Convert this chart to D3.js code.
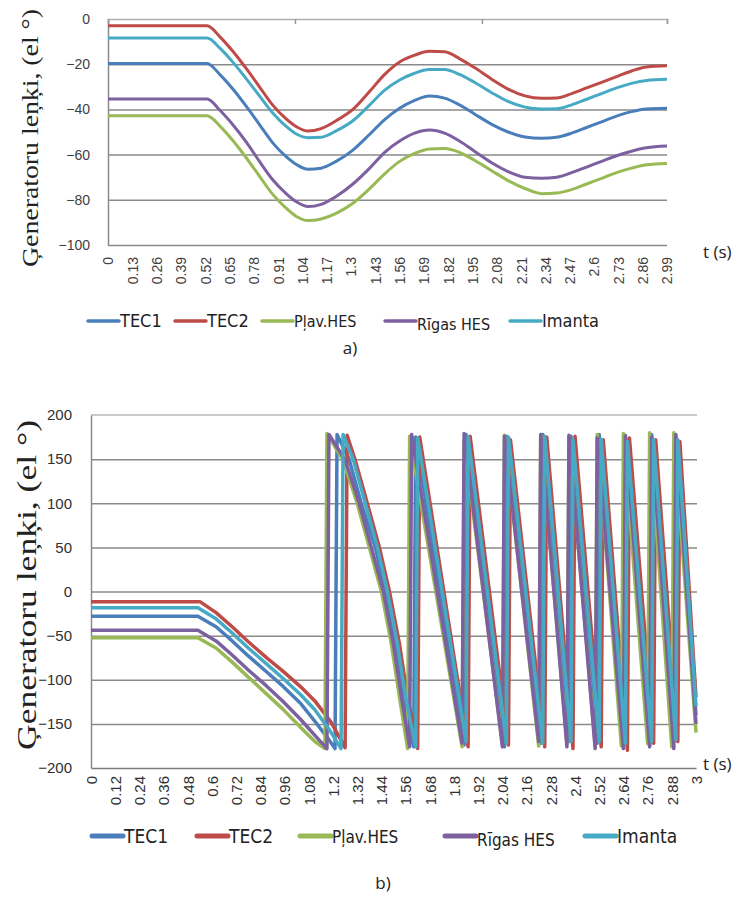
<!DOCTYPE html>
<html>
<head>
<meta charset="utf-8">
<script src="https://cdn.jsdelivr.net/npm/d3@7/dist/d3.min.js"></script>
<style>
  body { margin: 0; background: #fff; }
  svg { display: block; }
</style>
</head>
<body>
<svg id="chart" width="744" height="898"></svg>
<script>
var seriesNames = ["TEC1", "TEC2", "Pļav.HES", "Rīgas HES", "Imanta"];
var seriesColors = ["#4a7ebb", "#be4b48", "#98b954", "#7d60a0", "#46aac5"];
var yTitle = "Ģeneratoru leņķi, (el °)";

// ---- chart a) : time grid (s) and angles (el deg)
var timeA = [0, 0.53, 0.6, 0.67, 0.74, 0.81, 0.88, 0.95, 1.01, 1.07, 1.14, 1.22, 1.31, 1.40, 1.48, 1.56, 1.64,
             1.72, 1.80, 1.88, 1.96, 2.05, 2.14, 2.23, 2.32, 2.40, 2.48, 2.56, 2.64, 2.72, 2.80, 2.88, 2.99];
var tec1A = [-19.7, -19.7, -24.7, -31.2, -38.7, -46.7, -54.7, -60.7, -64.5, -66.5, -66, -63, -58, -51, -44.5, -39.5, -36,
             -34.1, -35, -38, -42, -46.5, -50, -52.2, -52.8, -52.3, -50.5, -48, -45.5, -43, -41, -39.8, -39.5];
var tec2A = [-3, -3, -8, -14.5, -22, -30, -38, -44, -47.8, -49.6, -48.5, -45, -40, -32, -24.5, -19, -16,
             -14.3, -14.5, -17.5, -21.5, -26.5, -31, -34, -35.1, -35, -33, -30.5, -28, -25.5, -23, -21.2, -20.7];
var plavA = [-42.8, -42.8, -47.5, -54, -61.5, -69.5, -77.5, -83.5, -87.5, -89.2, -88.5, -86, -81.5, -75, -68.5, -63, -59.5,
             -57.5, -57.3, -59, -62.5, -67, -71.5, -75, -77.3, -77, -75.5, -73, -70.5, -68, -66, -64.5, -63.9];
var rigasA = [-35.4, -35.4, -40.5, -47, -54.5, -63, -71, -77, -81, -83, -82, -78.5, -73, -66, -59, -54, -50.5,
              -49.1, -50.5, -54, -58.5, -63.5, -67.5, -70, -70.5, -70, -68, -65.5, -63, -60.5, -58.5, -57, -56.2];
var imantaA = [-8.4, -8.4, -13, -19.3, -26.5, -34, -41.5, -47.3, -51, -52.5, -52.3, -49.5, -45, -38, -31.5, -27, -24,
               -22.4, -22.4, -24.5, -28, -32.5, -36.5, -39, -39.8, -39.7, -38, -35.5, -33, -30.5, -28.5, -27.2, -26.7];
var yTicksA = [0, -20, -40, -60, -80, -100];
var xLabelsA = ["0", "0.13", "0.26", "0.39", "0.52", "0.65", "0.78", "0.91", "1.04", "1.17", "1.3", "1.43",
                "1.56", "1.69", "1.82", "1.95", "2.08", "2.21", "2.34", "2.47", "2.6", "2.73", "2.86", "2.99"];

// ---- chart b) : [time, angle] points, angle wraps at +-180
var tec1B = [[0,-28],[0.53,-28],[0.62,-40],[0.70,-56],[0.78,-73],[0.87,-91],[0.95,-107],[1.04,-127],[1.11,-147],[1.17,-165],[1.21,-178],
  [1.22,178],[1.28,150],[1.34,100],[1.41,50],[1.46,0],[1.51,-60],[1.55,-120],[1.60,-176],
  [1.61,175],[1.85,-174],[1.86,178],[2.05,-176],[2.06,176],[2.23,-172],[2.24,178],[2.37,-170],
  [2.38,176],[2.51,-172],[2.52,178],[2.64,-170],[2.65,177],[2.77,-175],[2.78,178],[2.89,-170],[2.90,176],[3.0,-140]];
var tec2B = [[0,-11.5],[0.54,-11.5],[0.62,-24],[0.70,-40],[0.78,-57],[0.87,-75],[0.95,-90],[1.04,-108],[1.11,-124],[1.19,-148],[1.26,-177],
  [1.27,177],[1.31,149],[1.37,100],[1.43,50],[1.48,0],[1.53,-60],[1.57,-120],[1.62,-178],
  [1.63,175],[1.87,-176],[1.88,176],[2.07,-174],[2.08,172],[2.25,-176],[2.26,175],[2.39,-178],
  [2.40,176],[2.53,-176],[2.54,172],[2.66,-180],[2.67,174],[2.79,-172],[2.80,172],[2.91,-170],[2.92,170],[3.0,-120]];
var plavB = [[0,-52.5],[0.53,-52.5],[0.62,-64],[0.70,-80],[0.78,-97],[0.87,-116],[0.95,-133],[1.04,-154],[1.11,-170],[1.16,-178],
  [1.17,179],[1.25,149],[1.32,100],[1.38,50],[1.44,0],[1.49,-60],[1.53,-120],[1.57,-178],
  [1.58,176],[1.84,-176],[1.85,170],[2.04,-172],[2.05,177],[2.22,-175],[2.23,178],[2.36,-172],
  [2.37,176],[2.50,-174],[2.51,178],[2.63,-175],[2.64,179],[2.76,-172],[2.77,180],[2.88,-176],[2.89,180],[3.0,-160]];
var rigasB = [[0,-44],[0.53,-44],[0.62,-56],[0.70,-72],[0.78,-89],[0.87,-107],[0.95,-124],[1.04,-145],[1.11,-163],[1.17,-178],
  [1.18,178],[1.26,149],[1.33,100],[1.39,50],[1.45,0],[1.50,-60],[1.54,-120],[1.58,-176],
  [1.59,178],[1.84,-172],[1.85,179],[2.04,-176],[2.05,176],[2.22,-170],[2.23,178],[2.36,-176],
  [2.37,177],[2.50,-178],[2.51,174],[2.64,-178],[2.65,176],[2.77,-176],[2.78,175],[2.89,-178],[2.90,178],[3.0,-150]];
var imantaB = [[0,-18.5],[0.53,-18.5],[0.62,-31],[0.70,-47],[0.78,-64],[0.87,-82],[0.95,-98],[1.04,-117],[1.11,-134],[1.18,-156],[1.24,-178],
  [1.25,178],[1.30,150],[1.36,100],[1.42,50],[1.47,0],[1.52,-60],[1.56,-120],[1.61,-176],
  [1.62,174],[1.86,-170],[1.87,175],[2.06,-172],[2.07,175],[2.24,-172],[2.25,176],[2.38,-170],
  [2.39,172],[2.52,-170],[2.53,172],[2.65,-172],[2.66,170],[2.78,-170],[2.79,172],[2.90,-168],[2.91,172],[3.0,-130]];
var yTicksB = [200, 150, 100, 50, 0, -50, -100, -150, -200];
var xLabelsB = ["0", "0.12", "0.24", "0.36", "0.48", "0.6", "0.72", "0.84", "0.96", "1.08", "1.2", "1.32", "1.44",
                "1.56", "1.68", "1.8", "1.92", "2.04", "2.16", "2.28", "2.4", "2.52", "2.64", "2.76", "2.88", "3"];

var svg = d3.select("#chart");
var sansFont = "'Liberation Sans', Arial, sans-serif";
var narrowFont = "'Liberation Sans Narrow', 'DejaVu Sans Condensed', 'Liberation Sans', sans-serif";
var gridColor = "#8a8a8a";

function drawYTitle(x, y, size, len) {
  svg.append("text")
    .attr("transform", "translate(" + x + "," + y + ") rotate(-90)")
    .attr("text-anchor", "middle")
    .attr("font-family", "'Liberation Serif', 'Times New Roman', serif")
    .attr("font-size", size)
    .attr("textLength", len)
    .attr("lengthAdjust", "spacingAndGlyphs")
    .attr("fill", "#222")
    .text(yTitle);
}

function drawLegend(y, xs, fontSize, lineW) {
  var g = svg.append("g");
  seriesNames.forEach(function(name, i) {
    g.append("line")
      .attr("x1", xs[i]).attr("x2", xs[i] + 31)
      .attr("y1", y).attr("y2", y)
      .attr("stroke", seriesColors[i]).attr("stroke-width", lineW)
      .attr("stroke-linecap", "round");
    g.append("text")
      .attr("x", xs[i] + 32).attr("y", y + fontSize * 0.36 + (i == 3 ? 3 : 0))
      .attr("font-family", narrowFont)
      .attr("font-size", (i == 2 || i == 3) ? fontSize - 2 : fontSize)
      .attr("fill", "#222")
      .text(name);
  });
}

// ================= chart a =================
(function() {
  var x = d3.scaleLinear().domain([0, 2.99]).range([108, 667]);
  var y = d3.scaleLinear().domain([-100, 0]).range([245, 19]);
  var g = svg.append("g");

  // horizontal gridlines
  g.append("g")
    .attr("transform", "translate(108,0)")
    .call(d3.axisLeft(y).tickValues(yTicksA.slice(1)).tickSize(-559).tickFormat(""))
    .call(function(s) {
      s.select(".domain").remove();
      s.selectAll(".tick line").attr("stroke", gridColor).attr("stroke-width", 1.5);
    });

  // y axis with labels
  g.append("g")
    .attr("transform", "translate(108,0)")
    .call(d3.axisLeft(y).tickValues(yTicksA).tickSize(0).tickPadding(18))
    .call(function(s) {
      s.select(".domain").attr("stroke", gridColor).attr("stroke-width", 1.5);
      s.selectAll("text").attr("font-family", sansFont).attr("font-size", 14).attr("fill", "#404040");
    });

  // horizontal axis crosses at 0 (top), tick marks every 100 samples
  g.append("g")
    .attr("transform", "translate(0," + y(0) + ")")
    .call(d3.axisBottom(x).tickValues([0, 1, 2, 2.99]).tickSize(5).tickFormat(""))
    .call(function(s) {
      s.select(".domain").attr("stroke", "#b0b0b0").attr("stroke-width", 1.5);
      s.selectAll(".tick line").attr("stroke", "#9a9a9a").attr("stroke-width", 1.5);
    });

  // category labels at the bottom
  g.append("g")
    .attr("transform", "translate(0,257)")
    .call(d3.axisBottom(x).tickValues(xLabelsA.map(Number)).tickSize(0)
      .tickFormat(function(d, i) { return xLabelsA[i]; }))
    .call(function(s) {
      s.select(".domain").remove();
      s.selectAll("text")
        .attr("transform", "rotate(-90)")
        .attr("text-anchor", "end")
        .attr("x", 0).attr("y", 0).attr("dy", "0.35em")
        .attr("font-family", sansFont).attr("font-size", 14).attr("fill", "#404040");
    });

  var data = [tec1A, tec2A, plavA, rigasA, imantaA];
  var line = d3.line()
    .x(function(d, i) { return x(timeA[i]); })
    .y(function(d) { return y(d); })
    .curve(d3.curveMonotoneX);
  data.forEach(function(vals, i) {
    g.append("path")
      .attr("d", line(vals))
      .attr("fill", "none")
      .attr("stroke", seriesColors[i])
      .attr("stroke-width", 3)
      .attr("stroke-linejoin", "round");
  });

  svg.append("text").attr("x", 703).attr("y", 258)
    .attr("font-family", "'Open Sans', sans-serif").attr("font-size", 17).attr("fill", "#222")
    .text("t (s)");
  drawYTitle(38, 138, 24, 258);
  drawLegend(321, [88, 175, 262, 385, 510], 18, 3.5);
  svg.append("text").attr("x", 350).attr("y", 354).attr("text-anchor", "middle")
    .attr("font-family", "'Open Sans', sans-serif").attr("font-size", 17).attr("fill", "#222")
    .text("a)");
})();

// ================= chart b =================
(function() {
  var x = d3.scaleLinear().domain([0, 3]).range([91, 696]);
  var y = d3.scaleLinear().domain([-200, 200]).range([768, 415]);
  var g = svg.append("g");

  g.append("g")
    .attr("transform", "translate(91,0)")
    .call(d3.axisLeft(y).tickValues(yTicksB.slice(1, -1)).tickSize(-606).tickFormat(""))
    .call(function(s) {
      s.select(".domain").remove();
      s.selectAll(".tick line").attr("stroke", gridColor).attr("stroke-width", 1.5);
    });
  g.append("line")
    .attr("x1", 91).attr("x2", 697).attr("y1", y(200)).attr("y2", y(200))
    .attr("stroke", "#b8b8b8").attr("stroke-width", 1.5);

  g.append("g")
    .attr("transform", "translate(91,0)")
    .call(d3.axisLeft(y).tickValues(yTicksB).tickSize(0).tickPadding(19))
    .call(function(s) {
      s.select(".domain").attr("stroke", gridColor).attr("stroke-width", 1.5);
      s.selectAll("text").attr("font-family", sansFont).attr("font-size", 15).attr("fill", "#303030");
    });

  g.append("g")
    .attr("transform", "translate(0," + y(-200) + ")")
    .call(d3.axisBottom(x).tickValues([]).tickSize(0))
    .call(function(s) {
      s.select(".domain").attr("stroke", "#7a7a7a").attr("stroke-width", 1.5);
    });

  g.append("g")
    .attr("transform", "translate(0,776)")
    .call(d3.axisBottom(x).tickValues(xLabelsB.map(Number)).tickSize(0)
      .tickFormat(function(d, i) { return xLabelsB[i]; }))
    .call(function(s) {
      s.select(".domain").remove();
      s.selectAll("text")
        .attr("transform", "rotate(-90)")
        .attr("text-anchor", "end")
        .attr("x", 0).attr("y", 0).attr("dy", "0.35em")
        .attr("font-family", sansFont).attr("font-size", 15).attr("fill", "#303030");
    });

  var data = [tec1B, tec2B, plavB, rigasB, imantaB];
  var line = d3.line()
    .x(function(d) { return x(d[0]); })
    .y(function(d) { return y(d[1]); });
  data.forEach(function(pts, i) {
    g.append("path")
      .attr("d", line(pts))
      .attr("fill", "none")
      .attr("stroke", seriesColors[i])
      .attr("stroke-width", 3.5)
      .attr("stroke-linejoin", "round");
  });

  svg.append("text").attr("x", 703).attr("y", 770)
    .attr("font-family", "'Open Sans', sans-serif").attr("font-size", 17).attr("fill", "#222")
    .text("t (s)");
  drawYTitle(36, 585, 27, 330);
  drawLegend(836, [92, 197, 300, 445, 585], 19, 5);
  svg.append("text").attr("x", 383).attr("y", 889).attr("text-anchor", "middle")
    .attr("font-family", "'Open Sans', sans-serif").attr("font-size", 17).attr("fill", "#222")
    .text("b)");
})();
</script>
</body>
</html>
